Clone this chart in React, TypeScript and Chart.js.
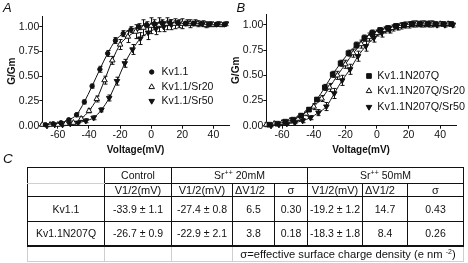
import React, { useEffect, useRef } from "react";
import { Chart, registerables } from "chart.js";
Chart.register(...registerables);

// ---------- data: panel A ----------
const A_X_CTRL = [-68, -63, -58, -53, -48, -43, -38, -33, -28, -23, -18, -13, -8, -3, 2, 7, 12, 17, 22, 27, 32, 37, 42, 47];
const A_Y_CTRL = [0.01, 0.02, 0.03, 0.06, 0.11, 0.24, 0.40, 0.57, 0.73, 0.86, 0.93, 0.97, 1.00, 1.02, 1.03, 1.04, 1.04, 1.04, 1.03, 1.03, 1.03, 1.02, 1.02, 1.02];
const A_E_CTRL = [0.01, 0.01, 0.01, 0.01, 0.02, 0.02, 0.02, 0.03, 0.03, 0.03, 0.03, 0.03, 0.03, 0.03, 0.04, 0.03, 0.03, 0.02, 0.02, 0.02, 0.02, 0.02, 0.01, 0.01];

const A_X_SR20 = [-70, -65, -60, -55, -50, -45, -40, -35, -30, -25, -20, -15, -10, -5, 0, 5, 10, 15, 20, 25, 30, 35, 40, 45];
const A_Y_SR20 = [0.01, 0.01, 0.01, 0.02, 0.03, 0.07, 0.15, 0.27, 0.46, 0.66, 0.82, 0.90, 0.95, 0.99, 1.01, 1.02, 1.03, 1.03, 1.03, 1.03, 1.03, 1.02, 1.02, 1.02];
const A_E_SR20 = [0.01, 0.01, 0.01, 0.01, 0.01, 0.02, 0.02, 0.03, 0.04, 0.04, 0.05, 0.06, 0.07, 0.08, 0.08, 0.07, 0.06, 0.05, 0.05, 0.04, 0.03, 0.03, 0.02, 0.02];

const A_X_SR50 = [-67, -62, -57, -52, -47, -42, -37, -32, -27, -22, -17, -12, -7, -2, 3, 8, 13, 18, 23, 28, 33, 38, 43, 48];
const A_Y_SR50 = [0.00, 0.01, 0.01, 0.02, 0.03, 0.05, 0.08, 0.16, 0.28, 0.45, 0.63, 0.77, 0.88, 0.94, 0.98, 1.00, 1.02, 1.03, 1.04, 1.04, 1.03, 1.03, 1.03, 1.03];
const A_E_SR50 = [0.01, 0.01, 0.01, 0.01, 0.01, 0.02, 0.02, 0.02, 0.03, 0.04, 0.04, 0.05, 0.06, 0.07, 0.06, 0.05, 0.05, 0.04, 0.03, 0.03, 0.03, 0.02, 0.02, 0.02];

// ---------- data: panel B ----------
const B_X_CTRL = [-68, -63, -58, -53, -48, -43, -38, -33, -28, -23, -18, -13, -8, -3, 2, 7, 12, 17, 22, 27, 32, 37, 42, 47];
const B_Y_CTRL = [0.01, 0.02, 0.04, 0.06, 0.10, 0.16, 0.26, 0.38, 0.51, 0.62, 0.72, 0.80, 0.87, 0.92, 0.95, 0.97, 0.99, 1.00, 1.01, 1.01, 1.01, 1.01, 1.01, 1.01];
const B_E_CTRL = [0.01, 0.01, 0.01, 0.01, 0.02, 0.02, 0.02, 0.03, 0.03, 0.03, 0.03, 0.03, 0.03, 0.03, 0.02, 0.02, 0.02, 0.02, 0.02, 0.02, 0.02, 0.01, 0.01, 0.01];

const B_X_SR20 = [-70, -65, -60, -55, -50, -45, -40, -35, -30, -25, -20, -15, -10, -5, 0, 5, 10, 15, 20, 25, 30, 35, 40, 45];
const B_Y_SR20 = [0.01, 0.02, 0.03, 0.05, 0.07, 0.12, 0.19, 0.27, 0.38, 0.50, 0.61, 0.72, 0.81, 0.88, 0.92, 0.95, 0.97, 0.99, 1.00, 1.01, 1.01, 1.01, 1.01, 1.01];
const B_E_SR20 = [0.02, 0.01, 0.01, 0.01, 0.02, 0.02, 0.03, 0.03, 0.04, 0.04, 0.04, 0.04, 0.04, 0.04, 0.03, 0.03, 0.03, 0.03, 0.03, 0.03, 0.03, 0.03, 0.02, 0.02];

const B_X_SR50 = [-67, -62, -57, -52, -47, -42, -37, -32, -27, -22, -17, -12, -7, -2, 3, 8, 13, 18, 23, 28, 33, 38, 43, 48];
const B_Y_SR50 = [0.00, 0.01, 0.02, 0.03, 0.05, 0.08, 0.13, 0.19, 0.32, 0.45, 0.56, 0.69, 0.79, 0.87, 0.92, 0.95, 0.98, 1.00, 1.01, 1.01, 1.01, 1.00, 1.00, 1.00];
const B_E_SR50 = [0.01, 0.01, 0.01, 0.01, 0.02, 0.02, 0.03, 0.04, 0.05, 0.05, 0.05, 0.05, 0.05, 0.04, 0.04, 0.03, 0.03, 0.03, 0.03, 0.03, 0.03, 0.02, 0.02, 0.02];

const A_LABELS = ["Kv1.1", "Kv1.1/Sr20", "Kv1.1/Sr50"];
const B_LABELS = ["Kv1.1N207Q", "Kv1.1N207Q/Sr20", "Kv1.1N207Q/Sr50"];

const X_TICKS = [-60, -40, -20, 0, 20, 40];
const Y_TICKS = [0, 0.25, 0.5, 0.75, 1.0];

// ---------- data: table C ----------
const HEAD2 = ["V1/2(mV)", "V1/2(mV)", "ΔV1/2", "σ", "V1/2(mV)", "ΔV1/2", "σ"];
const ROW_NAMES = ["Kv1.1", "Kv1.1N207Q"];
const CONTROL_V = ["-33.9 ± 1.1", "-26.7 ± 0.9"];
const SR20_V = ["-27.4 ± 0.8", "-22.9 ± 2.1"];
const SR20_DV = ["6.5", "3.8"];
const SR20_SIGMA = ["0.30", "0.18"];
const SR50_V = ["-19.2 ± 1.2", "-18.3 ± 1.8"];
const SR50_DV = ["14.7", "8.4"];
const SR50_SIGMA = ["0.43", "0.26"];

// ---------- styling ----------
const FONT = '"Liberation Sans", Arial, Helvetica, sans-serif';
const INK = "#111";
Chart.defaults.font.family = FONT;
Chart.defaults.color = INK;

type MarkerStyle = { style: string; rotation: number; radius: number; fill: string };
const A_MARKERS: MarkerStyle[] = [
  { style: "circle", rotation: 0, radius: 2.2, fill: INK },
  { style: "triangle", rotation: 0, radius: 3.2, fill: "#fff" },
  { style: "triangle", rotation: 180, radius: 3.2, fill: INK },
];
const B_MARKERS: MarkerStyle[] = [
  { style: "rect", rotation: 0, radius: 3.3, fill: INK },
  { style: "triangle", rotation: 0, radius: 3.2, fill: "#fff" },
  { style: "triangle", rotation: 180, radius: 3.2, fill: INK },
];

function drawMarker(ctx: CanvasRenderingContext2D, m: MarkerStyle, x: number, y: number) {
  ctx.beginPath();
  const r = m.radius;
  if (m.style === "circle") {
    ctx.arc(x, y, r, 0, Math.PI * 2);
  } else if (m.style === "rect") {
    const s = Math.SQRT1_2 * r;
    ctx.rect(x - s, y - s, 2 * s, 2 * s);
  } else {
    let rad = (m.rotation * Math.PI) / 180;
    ctx.moveTo(x + Math.sin(rad) * r, y - Math.cos(rad) * r);
    rad += (2 * Math.PI) / 3;
    ctx.lineTo(x + Math.sin(rad) * r, y - Math.cos(rad) * r);
    rad += (2 * Math.PI) / 3;
    ctx.lineTo(x + Math.sin(rad) * r, y - Math.cos(rad) * r);
    ctx.closePath();
  }
  ctx.fillStyle = m.fill;
  ctx.fill();
  ctx.strokeStyle = INK;
  ctx.lineWidth = 1;
  ctx.stroke();
}

const errorBarPlugin = {
  id: "errorBars",
  beforeDatasetsDraw(chart: any) {
    const { ctx } = chart;
    const xs = chart.scales.x;
    const ys = chart.scales.y;
    ctx.save();
    ctx.strokeStyle = INK;
    ctx.lineWidth = 1;
    chart.data.datasets.forEach((ds: any) => {
      const errs: number[] = ds.errors;
      if (!errs) return;
      ds.data.forEach((p: any, i: number) => {
        const e = errs[i];
        if (!e) return;
        const px = Math.round(xs.getPixelForValue(p.x)) + 0.5;
        const y1 = ys.getPixelForValue(p.y + e);
        const y2 = ys.getPixelForValue(p.y - e);
        ctx.beginPath();
        ctx.moveTo(px, y1);
        ctx.lineTo(px, y2);
        ctx.moveTo(px - 2, y1);
        ctx.lineTo(px + 2, y1);
        ctx.moveTo(px - 2, y2);
        ctx.lineTo(px + 2, y2);
        ctx.stroke();
      });
    });
    ctx.restore();
  },
};

const legendPlugin = {
  id: "boxLegend",
  afterDraw(chart: any, _args: any, opts: any) {
    const { ctx } = chart;
    ctx.save();
    ctx.font = `${opts.fontSize}px ${FONT}`;
    ctx.textBaseline = "middle";
    ctx.textAlign = "left";
    chart.data.datasets.forEach((ds: any, i: number) => {
      const y = opts.rows[i];
      drawMarker(ctx, ds.marker, opts.markerX, y);
      ctx.fillStyle = INK;
      ctx.fillText(ds.label, opts.textX, y);
    });
    ctx.restore();
  },
};

function series(label: string, xs: number[], ys: number[], errs: number[], m: MarkerStyle) {
  return {
    label,
    data: xs.map((x, i) => ({ x, y: ys[i] })),
    errors: errs,
    marker: m,
    borderColor: INK,
    borderWidth: 1,
    pointStyle: m.style,
    pointRotation: m.rotation,
    pointRadius: m.radius,
    pointBackgroundColor: m.fill,
    pointBorderColor: INK,
    pointBorderWidth: 1,
    cubicInterpolationMode: "monotone",
    fill: false,
    clip: false,
  };
}

function makeConfig(p: {
  datasets: any[];
  topPad: number;
  rightPad: number;
  legend: { rows: number[]; markerX: number; textX: number; fontSize: number };
}) {
  return {
    type: "line",
    data: { datasets: p.datasets },
    plugins: [errorBarPlugin, legendPlugin],
    options: {
      animation: false,
      responsive: false,
      devicePixelRatio: 1,
      events: [],
      layout: { padding: { left: 0, top: p.topPad, right: p.rightPad, bottom: 0 } },
      plugins: {
        legend: { display: false },
        tooltip: { enabled: false },
        boxLegend: p.legend,
      },
      scales: {
        x: {
          type: "linear",
          min: -70,
          max: 50,
          afterBuildTicks: (s: any) => {
            s.ticks = X_TICKS.map((v) => ({ value: v }));
          },
          afterFit: (s: any) => {
            s.height = 34.3;
          },
          grid: { display: true, drawOnChartArea: false, drawTicks: true, tickLength: 3, color: INK, lineWidth: 1 },
          border: { display: true, color: INK, width: 1 },
          ticks: {
            color: INK,
            font: { size: 10.5 },
            padding: 0,
            maxRotation: 0,
            autoSkip: false,
            callback: (v: any) => String(v),
          },
          title: {
            display: true,
            text: "Voltage(mV)",
            color: INK,
            font: { size: 10, weight: "bold" },
            padding: { top: 0, bottom: 4 },
          },
        },
        y: {
          type: "linear",
          min: 0,
          max: 1.1,
          afterBuildTicks: (s: any) => {
            s.ticks = Y_TICKS.map((v) => ({ value: v }));
          },
          afterFit: (s: any) => {
            s.width = 42.3;
          },
          grid: { display: true, drawOnChartArea: false, drawTicks: true, tickLength: 3, color: INK, lineWidth: 1 },
          border: { display: true, color: INK, width: 1 },
          ticks: {
            color: INK,
            font: { size: 10.5 },
            padding: 0,
            callback: (v: any) => Number(v).toFixed(2),
          },
          title: {
            display: true,
            text: "G/Gm",
            color: INK,
            font: { size: 10, weight: "bold" },
            padding: { top: 6, bottom: 0 },
          },
        },
      },
    },
  };
}

function ChartBox(props: { build: () => any; left: number; width: number; height: number }) {
  const ref = useRef<HTMLCanvasElement>(null);
  useEffect(() => {
    const chart = new Chart(ref.current as HTMLCanvasElement, props.build());
    return () => chart.destroy();
  }, []);
  return (
    <canvas
      ref={ref}
      width={props.width}
      height={props.height}
      style={{ position: "absolute", left: props.left, top: 0, width: props.width, height: props.height }}
    />
  );
}

const buildA = () =>
  makeConfig({
    datasets: [
      series(A_LABELS[0], A_X_CTRL, A_Y_CTRL, A_E_CTRL, A_MARKERS[0]),
      series(A_LABELS[1], A_X_SR20, A_Y_SR20, A_E_SR20, A_MARKERS[1]),
      series(A_LABELS[2], A_X_SR50, A_Y_SR50, A_E_SR50, A_MARKERS[2]),
    ],
    topPad: 16.8,
    rightPad: 3,
    legend: { rows: [72, 87, 101], markerX: 151.7, textX: 161.5, fontSize: 10.5 },
  });

const buildB = () =>
  makeConfig({
    datasets: [
      series(B_LABELS[0], B_X_CTRL, B_Y_CTRL, B_E_CTRL, B_MARKERS[0]),
      series(B_LABELS[1], B_X_SR20, B_Y_SR20, B_E_SR20, B_MARKERS[1]),
      series(B_LABELS[2], B_X_SR50, B_Y_SR50, B_E_SR50, B_MARKERS[2]),
    ],
    topPad: 14.9,
    rightPad: 12,
    legend: { rows: [76, 91, 107], markerX: 145, textX: 153.3, fontSize: 10.8 },
  });

const COL_W = [77, 67, 61, 42, 33, 55, 45, 56];
const BLACK = `1px solid ${INK}`;
const GRAY = "1px solid #cfcfcf";

const cell: React.CSSProperties = {
  border: BLACK,
  padding: 0,
  textAlign: "center",
  verticalAlign: "middle",
  fontSize: 10.5,
  lineHeight: "12px",
  whiteSpace: "nowrap",
  overflow: "hidden",
};
const sup: React.CSSProperties = { fontSize: 7, lineHeight: 0, verticalAlign: "4px" };

function Sr(props: { conc: string }) {
  return (
    <>
      Sr<span style={sup}>++</span> {props.conc}
    </>
  );
}

export default function App() {
  const leftAlignCols = new Set([2, 5]);
  return (
    <div
      style={{
        position: "absolute",
        left: 0,
        top: 0,
        width: 468,
        height: 263,
        background: "#fff",
        overflow: "hidden",
        fontFamily: FONT,
        color: INK,
      }}
    >
      <ChartBox build={buildA} left={0} width={234} height={160} />
      <ChartBox build={buildB} left={224} width={244} height={160} />
      <div style={{ position: "absolute", left: 3, top: 1, fontSize: 13, lineHeight: "13px", fontStyle: "italic" }}>A</div>
      <div style={{ position: "absolute", left: 236.5, top: 1, fontSize: 13, lineHeight: "13px", fontStyle: "italic" }}>B</div>
      <div style={{ position: "absolute", left: 3, top: 151.5, fontSize: 13.5, lineHeight: "13px", fontStyle: "italic" }}>C</div>
      <table
        style={{
          position: "absolute",
          left: 27,
          top: 166.5,
          width: 436,
          borderCollapse: "collapse",
          tableLayout: "fixed",
          fontFamily: FONT,
          color: INK,
        }}
      >
        <colgroup>
          {COL_W.map((w, i) => (
            <col key={i} style={{ width: w }} />
          ))}
        </colgroup>
        <tbody>
          <tr style={{ height: 16 }}>
            <td style={{ ...cell, borderBottom: GRAY }}></td>
            <td style={{ ...cell, fontSize: 10.5 }}>Control</td>
            <td style={cell} colSpan={3}>
              <Sr conc="20mM" />
            </td>
            <td style={cell} colSpan={3}>
              <Sr conc="50mM" />
            </td>
          </tr>
          <tr style={{ height: 13 }}>
            <td style={{ ...cell, borderTop: GRAY }}></td>
            {HEAD2.map((h, i) => (
              <td
                key={i}
                style={{
                  ...cell,
                  fontSize: 11,
                  textAlign: leftAlignCols.has(i) ? "left" : "center",
                  paddingLeft: leftAlignCols.has(i) ? 2 : 0,
                }}
              >
                {h}
              </td>
            ))}
          </tr>
          {ROW_NAMES.map((name, r) => (
            <tr key={name} style={{ height: 25 }}>
              {[name, CONTROL_V[r], SR20_V[r], SR20_DV[r], SR20_SIGMA[r], SR50_V[r], SR50_DV[r], SR50_SIGMA[r]].map(
                (t, i) => (
                  <td key={i} style={{ ...cell, borderBottom: r === 1 ? `2px solid ${INK}` : BLACK }}>
                    {t}
                  </td>
                )
              )}
            </tr>
          ))}
          <tr style={{ height: 15 }}>
            <td style={{ ...cell, border: GRAY }}></td>
            <td style={{ ...cell, border: GRAY }}></td>
            <td style={{ ...cell, border: GRAY }}></td>
            <td style={{ ...cell, border: GRAY, fontSize: 11.2 }} colSpan={5}>
              σ=effective surface charge density (e nm <span style={sup}>-2</span>)
            </td>
          </tr>
        </tbody>
      </table>
    </div>
  );
}
